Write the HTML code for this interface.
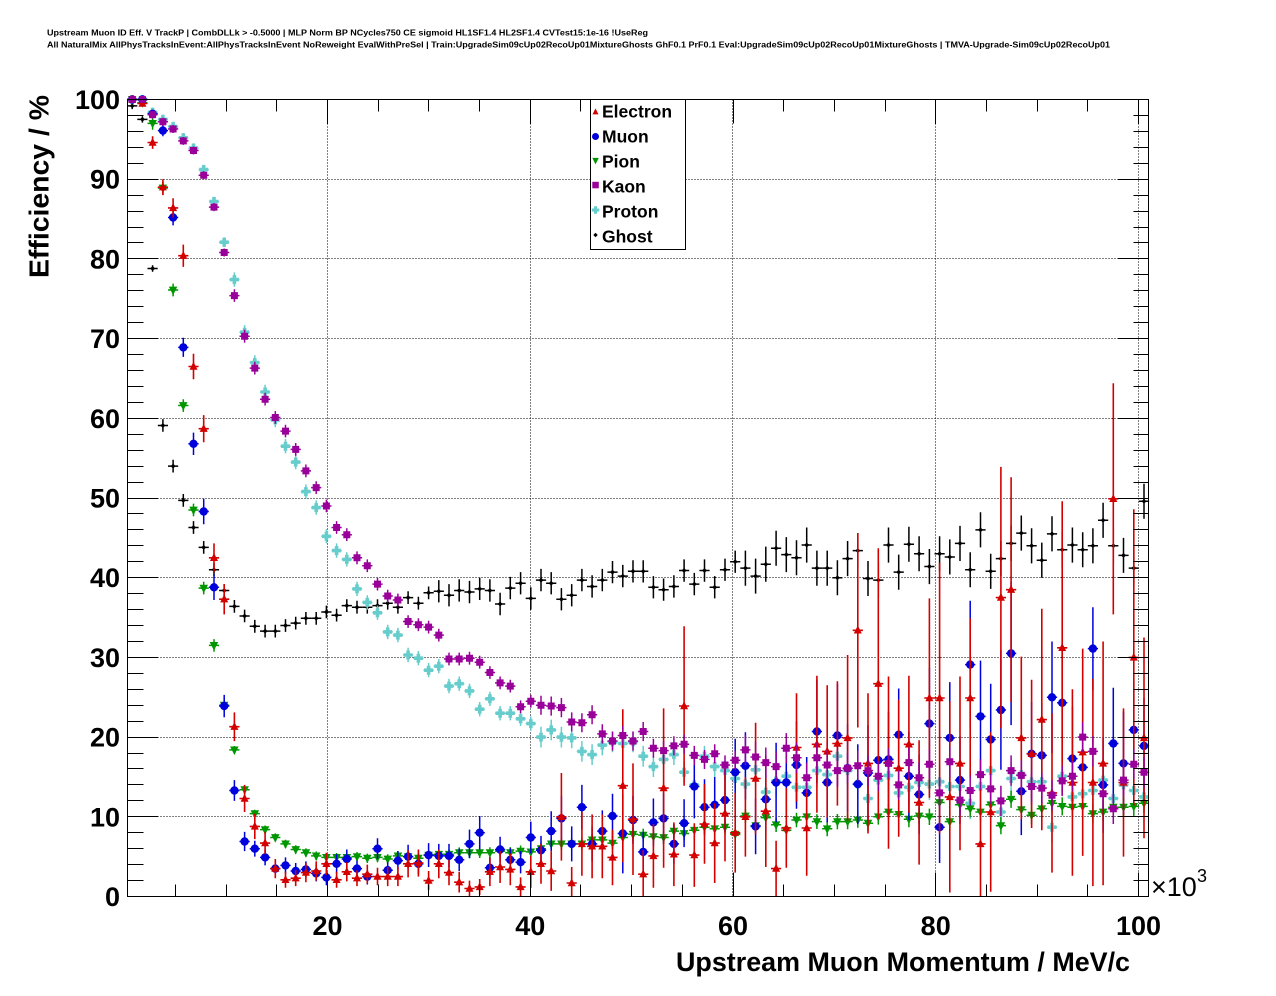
<!DOCTYPE html>
<html>
<head>
<meta charset="utf-8">
<style>
html,body{margin:0;padding:0;background:#fff;}
svg{display:block;}
text{font-family:"Liberation Sans",Arial,sans-serif;}
</style>
</head>
<body>
<svg id="c" width="1276" height="996" viewBox="0 0 1276 996" xmlns="http://www.w3.org/2000/svg">
<rect x="0" y="0" width="1276" height="996" fill="#ffffff"/>
<text x="47" y="35.5" font-size="8.7" font-weight="bold" textLength="601" lengthAdjust="spacingAndGlyphs">Upstream Muon ID Eff. V TrackP | CombDLLk &gt; -0.5000 | MLP Norm BP NCycles750 CE sigmoid HL1SF1.4 HL2SF1.4 CVTest15:1e-16 !UseReg</text>
<text x="47" y="47.7" font-size="8.7" font-weight="bold" textLength="1063" lengthAdjust="spacingAndGlyphs">All NaturalMix AllPhysTracksInEvent:AllPhysTracksInEvent NoReweight EvalWithPreSel | Train:UpgradeSim09cUp02RecoUp01MixtureGhosts GhF0.1 PrF0.1 Eval:UpgradeSim09cUp02RecoUp01MixtureGhosts | TMVA-Upgrade-Sim09cUp02RecoUp01</text>

<g id="grid" stroke="#000" stroke-width="1" stroke-dasharray="1,2" fill="none"></g>
<g id="data"></g>
<rect x="127.5" y="99.5" width="1021" height="797" fill="none" stroke="#000" stroke-width="1"/>
<g id="ticks"></g>

<g font-size="27" font-weight="bold" text-anchor="end">
<text x="120" y="109">100</text>
<text x="120" y="188.7">90</text>
<text x="120" y="268.4">80</text>
<text x="120" y="348.1">70</text>
<text x="120" y="427.8">60</text>
<text x="120" y="507.5">50</text>
<text x="120" y="587.2">40</text>
<text x="120" y="666.9">30</text>
<text x="120" y="746.6">20</text>
<text x="120" y="826.3">10</text>
<text x="120" y="906">0</text>
</g>
<g font-size="27" font-weight="bold" text-anchor="middle">
<text x="327.5" y="935">20</text>
<text x="530.3" y="935">40</text>
<text x="733" y="935">60</text>
<text x="935.7" y="935">80</text>
<text x="1138.5" y="935">100</text>
</g>
<text x="1151" y="896" font-size="27">×10</text>
<text x="1197" y="882" font-size="18">3</text>
<text x="1130" y="971" font-size="27" font-weight="bold" text-anchor="end" textLength="454" lengthAdjust="spacingAndGlyphs">Upstream Muon Momentum / MeV/c</text>
<text transform="translate(48.3,95) rotate(-90)" x="0" y="0" font-size="28" font-weight="bold" text-anchor="end" textLength="183" lengthAdjust="spacingAndGlyphs">Efficiency / %</text>

<rect x="590.5" y="99.5" width="95" height="150" fill="#fff" stroke="#000" stroke-width="1"/>
<g id="legm"></g>
<g font-size="17.5" font-weight="bold">
<text x="602" y="117.3">Electron</text>
<text x="602" y="142.3">Muon</text>
<text x="602" y="167.3">Pion</text>
<text x="602" y="192.3">Kaon</text>
<text x="602" y="217.3">Proton</text>
<text x="602" y="242.3">Ghost</text>
</g>
</svg>
<script>
(function(){
const NS="http://www.w3.org/2000/svg";
function el(tag,attrs,parent){const e=document.createElementNS(NS,tag);for(const k in attrs)e.setAttribute(k,attrs[k]);parent.appendChild(e);return e;}
const XL=127.5,XR=1148.5,YT=99.5,YB=896.5;
const xv=v=>124.75+10.1375*v;
const yv=v=>896.5-7.97*v;
const f=n=>n.toFixed(1);

// grid
const gG=document.getElementById('grid');
let gd='';
[327.5,530.5,732.5,935.5,1138.5].forEach(x=>{gd+=`M${x} ${YT}V${YB}`;});
for(let v=10;v<=90;v+=10){const y=Math.floor(yv(v))+0.5;gd+=`M${XL} ${y}H${XR}`;}
el('path',{d:gd},gG);

// ticks
const gT=document.getElementById('ticks');
let d='';
for(let v=5;v<=100;v+=5){const x=Math.round(xv(v)-0.5)+0.5;const L=(v%20===0)?24:12;d+=`M${x} ${YB}V${YB-L}M${x} ${YT}V${YT+L}`;}
for(let v=0;v<=100;v+=2){const y=Math.floor(yv(v))+0.5;const L=(v%10===0)?31:16;const R=(v%10===0)?31:15;d+=`M${XL} ${y}H${XL+L}M${XR} ${y}H${XR-R}`;}
el('path',{d:d,stroke:'#000','stroke-width':1,fill:'none'},gT);

// markers
const triUp=(x,y,s)=>`M${f(x)} ${f(y-s*0.6)}L${f(x+s/2)} ${f(y+s*0.4)}L${f(x-s/2)} ${f(y+s*0.4)}Z`;
const triDn=(x,y,s)=>`M${f(x)} ${f(y+s*0.6)}L${f(x+s/2)} ${f(y-s*0.4)}L${f(x-s/2)} ${f(y-s*0.4)}Z`;
const circ=(x,y,s)=>{const r=s/2;return `M${f(x-r)} ${f(y)}a${r} ${r} 0 1 0 ${2*r} 0a${r} ${r} 0 1 0 ${-2*r} 0Z`;};
const sq=(x,y,s)=>{const h=s/2;return `M${f(x-h)} ${f(y-h)}h${s}v${s}h${-s}Z`;};
const cross=(x,y,s)=>{const a=s/2,t=s*0.2;return `M${f(x-t)} ${f(y-a)}H${f(x+t)}V${f(y-t)}H${f(x+a)}V${f(y+t)}H${f(x+t)}V${f(y+a)}H${f(x-t)}V${f(y+t)}H${f(x-a)}V${f(y-t)}H${f(x-t)}Z`;};
const diam=(x,y,s)=>{const a=s/2;return `M${f(x)} ${f(y-a)}L${f(x+a)} ${f(y)}L${f(x)} ${f(y+a)}L${f(x-a)} ${f(y)}Z`;};

const X0=132.2,DX=10.22;
const gD=document.getElementById('data');
function drawSeries(vals,errf,color,marker,size,bw){
  let bars='';
  vals.forEach((v,k)=>{
    const x=X0+DX*k,y=yv(v);
    const e=errf(k);
    bars+=`M${f(x-5.1)} ${f(y)}H${f(x+5.1)}`;
    if(e>0){const y1=yv(Math.min(v+e,100)),y2=yv(Math.max(v-e,0));bars+=`M${f(x)} ${f(y1)}V${f(y2)}`;}
  });
  el('path',{d:bars,stroke:color,'stroke-width':bw,fill:'none'},gD);
  let m='';
  vals.forEach((v,k)=>{m+=marker(X0+DX*k,yv(v),size);});
  el('path',{d:m,fill:color,stroke:'none'},gD);
}

const R=[100,99.5,94.6,89.0,86.4,80.4,66.5,58.7,42.5,37.3,
21.3,12.3,8.8,6.7,3.5,2.1,2.3,3.0,3.2,4.1,
2.1,3.1,2.3,2.8,2.5,2.5,2.5,4.1,4.2,2.0,
4.1,3.0,1.8,1.0,1.2,3.1,3.7,3.4,1.2,3.1,
4.1,3.2,10.0,1.7,6.6,6.3,6.3,4.9,13.9,9.7,
2.8,5.1,13.6,5.3,23.9,5.2,9.1,6.7,10.4,8.0,
10.0,14.8,10.7,3.5,8.6,18.7,8.6,19.1,18.2,19.2,
19.9,33.4,16.7,26.7,16.8,16.1,19.1,11.8,24.9,24.9,
12.5,16.7,24.9,6.6,10.6,37.5,38.5,19.9,17.9,22.2,
13.0,31.2,14.3,18.1,14.3,16.7,49.9,14.3,30.0,19.9];
const ER=[0,0,0.8,1.0,1.2,1.4,1.6,1.7,1.8,1.9,
1.8,1.7,1.6,1.4,1.2,1.0,1.0,1.2,1.2,1.4,
1.0,1.2,1.0,1.2,1.1,1.2,1.2,1.7,1.7,1.2,
1.8,1.6,1.3,1.0,1.0,1.8,2.0,2.0,1.2,2.0,
2.5,2.5,5.5,2.0,4.0,4.0,4.0,3.5,9.6,7.0,
3.0,4.0,10,4.0,10,4.0,5.0,5.0,6.0,5.0,
5.0,7.0,7.0,3.5,5.0,6.8,6.0,8.6,8.3,7.8,
10.4,12.2,8.8,17,10.8,8.6,8.6,7.8,12.5,17,
12,10.9,10,7,10,16.4,14.1,10.2,9.3,13.9,
10,18.4,11.7,13,13,15.3,14.5,9.3,18.6,12.6];

const B=[100,100,98.2,96.1,85.2,68.9,56.8,48.3,38.8,23.9,
13.3,6.9,6.0,4.9,3.5,3.9,3.2,3.4,2.9,2.4,
4.1,4.7,3.5,2.5,6.0,3.3,4.5,5.0,4.1,5.2,
5.1,5.1,4.6,6.6,8.0,3.6,5.9,4.6,4.3,7.4,
5.8,8.2,9.8,6.6,11.2,6.6,8.2,10.1,7.9,9.6,
5.6,9.3,9.8,6.6,9.2,13.8,11.2,11.5,12.1,15.6,
16.4,8.8,12.2,14.3,14.3,16.5,13.0,20.7,14.3,20.2,
16.1,14.1,15.5,17.1,17.2,20.3,15.1,12.8,21.7,8.7,
19.9,14.6,29.1,22.6,19.7,23.4,30.5,13.2,17.9,17.7,
25.0,24.3,17.3,16.2,31.1,14.0,19.2,16.7,20.9,18.9];
const EB=[0,0,0.5,0.7,1.0,1.2,1.4,1.6,1.6,1.4,
1.3,1.2,1.0,1.0,1.0,1.0,1.0,1.0,1.0,1.0,
1.2,1.2,1.0,1.0,1.3,1.0,1.2,1.5,1.3,1.5,
1.5,1.5,1.4,1.8,2.1,1.3,1.6,1.5,1.4,2.0,
1.8,2.5,2.8,2.2,2.8,2.2,2.6,2.8,5.0,3.0,
2.5,3.0,3.2,2.5,3.0,4.0,3.5,3.5,4.0,4.2,
4.2,3.5,4.5,5.0,5.0,5.5,4.5,6.5,5.0,6.5,
5.5,5.0,6.0,6.5,6.0,5.8,5.5,5.0,7.0,4.5,
7.0,5.5,8.0,7.0,7.0,7.5,9.0,5.5,6.5,6.5,
7.0,7.5,6.5,6.0,5.2,6.0,7.0,6.5,6.0,6.0];

const G=[100,99.6,97.0,88.9,76.1,61.6,48.5,38.7,31.5,24.0,
18.4,13.4,10.4,8.4,7.4,6.6,5.9,5.5,5.1,4.9,
4.9,4.9,5.0,4.8,4.9,4.7,5.1,5.0,4.8,5.2,
5.3,5.3,5.5,5.5,5.5,5.5,5.7,5.5,5.7,5.6,
6.0,6.6,6.6,6.6,6.6,7.1,7.1,6.7,7.4,7.8,
7.7,7.5,7.4,8.2,7.9,8.3,8.7,8.5,8.7,7.8,
10.1,8.9,9.9,9.0,8.3,9.6,10.0,9.4,8.5,9.4,
9.4,9.6,9.2,10.0,10.6,10.3,9.7,10.1,10.0,11.8,
9.4,11.5,11.0,10.6,11.5,8.9,12.2,10.9,10.2,11.0,
11.7,11.3,11.2,11.3,10.4,10.6,11.2,11.2,11.3,11.7];

const K=[100,100,98.1,97.2,96.3,94.8,93.6,90.5,86.5,80.8,
75.4,70.3,66.3,62.4,60.1,58.4,56.1,53.4,51.3,49.0,
46.3,45.4,42.5,41.5,39.2,37.7,37.2,34.5,34.1,33.8,
32.8,29.8,29.8,29.9,29.4,28.1,26.8,26.4,23.8,24.5,
24.0,23.9,23.7,21.9,21.8,22.8,20.4,19.5,20.2,19.5,
20.7,18.6,18.3,18.9,19.1,17.7,17.2,17.9,16.5,17.1,
18.4,17.5,16.8,16.3,18.6,17.4,14.9,17.4,16.5,15.8,
16.1,16.4,15.8,15.1,16.7,14.0,16.8,14.9,16.6,13.0,
16.9,12.1,13.3,15.3,13.5,12.0,15.8,15.2,13.8,13.6,
12.7,14.5,15.1,20.0,18.2,12.9,11.0,14.6,16.6,15.6];

const P=[100,100,98.4,97.5,96.6,95.2,93.9,91.2,87.2,82.1,
77.4,70.8,67.0,63.3,59.8,56.5,54.5,50.8,48.8,45.2,
43.4,42.3,38.6,36.9,35.6,33.2,32.8,30.3,29.9,28.4,
28.9,26.4,26.7,25.8,23.5,24.8,23.0,23.0,22.3,21.7,
20.0,20.9,20.0,19.9,18.2,17.8,19.0,19.4,19.2,19.4,
17.6,16.3,17.2,17.8,15.6,14.0,17.6,16.3,15.8,14.8,
14.1,15.9,13.1,14.5,15.1,13.7,13.7,15.8,15.3,17.6,
15.8,14.1,12.3,14.6,15.2,13.0,13.7,14.3,14.1,14.4,
13.8,13.8,11.7,13.8,15.8,10.6,14.8,15.3,14.4,14.4,
8.7,15.1,12.5,12.9,13.3,14.6,12.3,14.0,13.3,12.5];

const H=[99.2,97.5,78.8,59.1,54.0,49.7,46.3,43.8,41.0,38.4,
36.4,35.2,33.9,33.3,33.3,34.0,34.3,34.9,34.9,35.7,
35.3,36.5,36.3,36.3,36.5,36.8,36.3,37.5,36.8,38.1,
38.3,37.8,38.4,38.2,38.6,38.4,36.7,38.7,39.3,37.4,
39.7,39.3,37.3,37.8,39.7,38.9,39.7,40.7,40.2,40.8,
40.8,38.8,38.5,38.9,40.9,39.2,40.9,38.8,41.0,42.0,
41.2,40.2,41.7,43.7,42.9,42.5,44.1,41.2,41.2,40.0,
42.4,43.4,39.9,39.7,44.1,40.7,44.2,43.0,41.4,43.0,
42.6,44.3,41.0,46.0,40.8,42.4,44.3,45.6,44.0,42.2,
45.5,43.5,44.1,43.5,44.0,47.2,44.0,42.8,41.2,49.6];

const eG=k=>k<2?0:(k<10?0.8:0.4+0.008*k);
const eK=k=>k<2?0:(k<10?0.5:(k<40?0.8:(k<60?1.2:1.9)));
const eP=k=>k<2?0:(k<10?0.6:(k<40?0.9:(k<60?1.3:2.0)));
const eH=k=>k<3?0.4:(k<30?0.8:(k<60?1.4:2.2));

const cR='#d40000',cB='#0000dc',cG='#009600',cK='#990099',cP='#66cccc',cH='#000000';

drawSeries(H,eH,cH,diam,5,1.5);
drawSeries(P,eP,cP,cross,9,1.5);
drawSeries(G,eG,cG,triDn,8.5,1.5);
drawSeries(B,k=>EB[k],cB,circ,8.4,1.5);
drawSeries(R,k=>ER[k],cR,triUp,8,1.6);
drawSeries(K,eK,cK,sq,7,1.5);

// legend markers
const gL=document.getElementById('legm');
const lx=595.5;
el('path',{d:triUp(lx,112,6),fill:cR},gL);
el('path',{d:circ(lx,136.5,7),fill:cB},gL);
el('path',{d:triDn(lx,160.5,6.5),fill:cG},gL);
el('path',{d:sq(lx,185,6.5),fill:cK},gL);
el('path',{d:cross(lx,210,7.5),fill:cP},gL);
el('path',{d:diam(lx,235,4.5),fill:cH},gL);
})();
</script>
</body>
</html>
